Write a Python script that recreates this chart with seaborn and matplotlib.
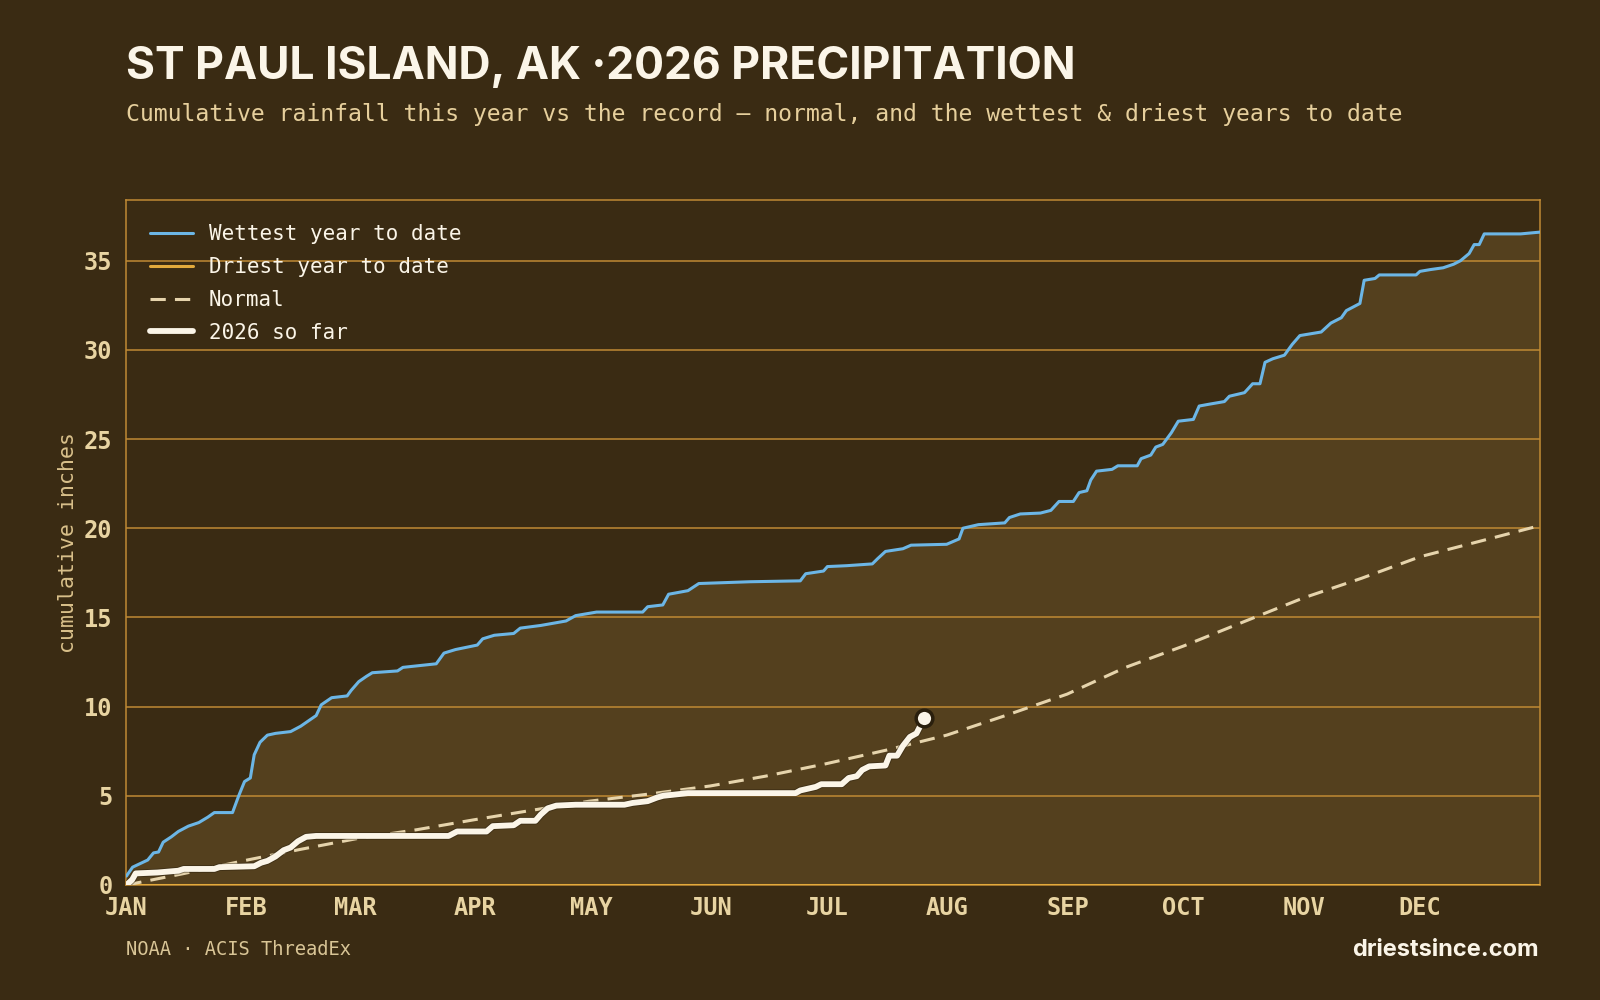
import matplotlib
matplotlib.use("Agg")
import matplotlib.pyplot as plt
import matplotlib.patheffects as pe
import numpy as np
import pandas as pd
import seaborn as sns

# day-of-year (0 = Jan 1) and cumulative inches
wet_days = [0, 1.6, 5.5, 7, 8.3, 9.5, 11.6, 13.4, 16, 18.7, 21, 22.7, 27.4, 29, 30.5, 32, 33, 34.5,
            36.4, 38.5, 42.4, 45, 47, 49, 50.3, 53, 57, 58, 60, 62, 63.5, 70, 71.4, 80, 82, 85,
            90.6, 92, 95, 100, 101.7, 107, 113.5, 116, 121.4, 133.3, 134.6, 138.5, 140, 145, 147.8,
            161, 174, 175.4, 180, 181, 186, 192.6, 194, 196, 200.5, 202.6, 211.8, 215, 216, 220,
            226.8, 228, 230.8, 236, 238.7, 240.8, 244.5, 246, 248, 249, 250.5, 254.5, 256, 261, 262,
            264.5, 265.8, 267.6, 269.8, 271.6, 275.5, 277, 279.5, 283.5, 284.8, 288.7, 290.8, 292.7,
            294, 296, 299, 301, 303, 308.5, 311, 313.7, 315, 318.5, 319.6, 322.4, 323.5, 333, 334,
            336.7, 340, 342.7, 344.5, 346.7, 348, 349.3, 350.6, 360, 365]
wet_vals = [0.5, 1.0, 1.4, 1.8, 1.85, 2.4, 2.7, 3.0, 3.3, 3.5, 3.8, 4.06, 4.06, 5.0, 5.8, 6.0, 7.3, 8.0,
            8.4, 8.5, 8.6, 8.9, 9.2, 9.5, 10.1, 10.5, 10.6, 10.9, 11.4, 11.7, 11.9, 12.0, 12.2, 12.4,
            13.0, 13.2, 13.45, 13.8, 14.0, 14.1, 14.4, 14.55, 14.8, 15.1, 15.3, 15.3, 15.6, 15.7,
            16.3, 16.5, 16.9, 17.0, 17.05, 17.45, 17.6, 17.85, 17.9, 18.0, 18.3, 18.7, 18.85, 19.05,
            19.1, 19.4, 20.0, 20.2, 20.3, 20.6, 20.8, 20.85, 21.0, 21.5, 21.5, 22.0, 22.1, 22.7,
            23.2, 23.3, 23.5, 23.5, 23.9, 24.1, 24.55, 24.7, 25.35, 26.0, 26.1, 26.85, 26.95, 27.1,
            27.4, 27.6, 28.1, 28.1, 29.3, 29.5, 29.7, 30.3, 30.8, 31.0, 31.5, 31.8, 32.2, 32.6,
            33.9, 34.0, 34.2, 34.2, 34.4, 34.5, 34.6, 34.8, 35.0, 35.4, 35.9, 35.9, 36.5, 36.5, 36.6]

dry_days = [0, 365]
dry_vals = [0.0, 0.0]

normal_days = [0, 15, 30.5, 45, 59.5, 75, 89.6, 105, 119.6, 135, 150.7, 165, 180.7, 196, 211.8,
               227, 242.9, 258, 273, 289, 304, 319, 334, 350, 365]
normal_vals = [0.0, 0.65, 1.37, 2.0, 2.6, 3.1, 3.65, 4.2, 4.7, 5.1, 5.55, 6.1, 6.8, 7.55, 8.4,
               9.5, 10.7, 12.2, 13.4, 14.8, 16.1, 17.2, 18.4, 19.3, 20.15]

cur_days = [0, 1.5, 2.4, 8, 13.4, 14.8, 22.7, 24, 33, 34.8, 36.4, 38.5, 40.6, 42.4, 44.3, 46.4, 49,
            83.2, 85.4, 93, 94.6, 100, 101.7, 105.6, 107, 108.8, 111, 116, 128.6, 130.7, 134.6,
            137, 138.6, 145, 172.8, 174, 178, 179.4, 184.7, 186.5, 188.6, 190, 191.8, 196, 197,
            199, 200.5, 202.3, 204, 206]
cur_vals = [0.0, 0.3, 0.65, 0.7, 0.8, 0.9, 0.9, 1.0, 1.05, 1.25, 1.35, 1.6, 1.95, 2.1, 2.45, 2.7,
            2.75, 2.75, 3.0, 3.0, 3.3, 3.35, 3.6, 3.6, 3.95, 4.3, 4.45, 4.5, 4.5, 4.6, 4.7, 4.9,
            5.0, 5.15, 5.15, 5.3, 5.5, 5.65, 5.65, 6.0, 6.1, 6.45, 6.65, 6.7, 7.25, 7.25, 7.8,
            8.3, 8.5, 9.35]

month_starts = [0, 31, 59, 90, 120, 151, 181, 212, 243, 273, 304, 334]
month_labels = ["JAN", "FEB", "MAR", "APR", "MAY", "JUN", "JUL", "AUG", "SEP", "OCT", "NOV", "DEC"]

BG = "#3a2b13"
FILL = "#54401e"
GRID = "#c08a34"
BLUE = "#6cb6e6"
GOLD = "#e3aa3c"
WHITE = "#fbf5e8"
NORMAL = "#e6d4ac"
TICK = "#e8d4a2"

sns.set_theme(style="white")
plt.rcParams["font.family"] = ["DejaVu Sans Mono"]

fig = plt.figure(figsize=(16, 10), dpi=100, facecolor=BG)
ax = fig.add_axes([0.079, 0.115, 0.8835, 0.685])
ax.set_facecolor(BG)

wet = pd.DataFrame({"day": wet_days, "inches": wet_vals})
dry = pd.DataFrame({"day": dry_days, "inches": dry_vals})
normal = pd.DataFrame({"day": normal_days, "inches": normal_vals})
cur = pd.DataFrame({"day": cur_days, "inches": cur_vals})

# band between driest and wettest
dry_on_wet = np.interp(wet["day"], dry["day"], dry["inches"])
ax.fill_between(wet["day"], dry_on_wet, wet["inches"], color=FILL, lw=0, zorder=1)

for yv in range(5, 40, 5):
    ax.axhline(yv, color=GRID, lw=1.1, zorder=2)

sns.lineplot(data=wet, x="day", y="inches", ax=ax, color=BLUE, lw=2.2,
             label="Wettest year to date", zorder=4, sort=False)
sns.lineplot(data=dry, x="day", y="inches", ax=ax, color=GOLD, lw=2.2,
             label="Driest year to date", zorder=4, sort=False)
sns.lineplot(data=normal, x="day", y="inches", ax=ax, color=NORMAL, lw=2.2,
             dashes=False, label="Normal", zorder=4, sort=False)
ax.lines[-1].set_linestyle((0, (5, 3)))
sns.lineplot(data=cur, x="day", y="inches", ax=ax, color=WHITE, lw=4.2,
             label="2026 so far", zorder=5, sort=False,
             path_effects=[pe.Stroke(linewidth=5.5, foreground="#2a1f0d", alpha=0.5), pe.Normal()])
ax.plot(cur["day"].iloc[-1], cur["inches"].iloc[-1], "o", ms=12, mfc=WHITE,
        mec="#2a1f0d", mew=2.5, zorder=6, clip_on=False)

ax.set_xlim(0, 365)
ax.set_ylim(0, 38.4)
ax.set_xticks(month_starts)
ax.set_xticklabels(month_labels)
ax.set_yticks(range(0, 40, 5))
ax.tick_params(axis="both", labelsize=17, length=6, width=1, direction="out", pad=2)
ax.tick_params(axis="x", colors="#b8a57a", labelcolor=TICK)
ax.tick_params(axis="y", colors="#b8a57a", labelcolor=TICK, pad=4)
for lab in ax.get_xticklabels() + ax.get_yticklabels():
    lab.set_fontweight("bold")
ax.set_xlabel("")
ax.set_ylabel("cumulative inches", color="#d9c08a", fontsize=15.5, labelpad=4)
for s in ax.spines.values():
    s.set_color(GRID)
    s.set_linewidth(1.1)

leg = ax.legend(loc="upper left", frameon=False, fontsize=15, handlelength=2.05,
                handletextpad=0.75, labelspacing=0.62, borderaxespad=0.75)
for t in leg.get_texts():
    t.set_color(WHITE)
for h in leg.get_lines():
    h.set_path_effects([])
leg.get_lines()[2].set_linestyle((0, (5, 3)))

fig.text(0.0785, 0.9215, "ST PAUL ISLAND, AK \u00b72026 PRECIPITATION", color=WHITE,
         fontsize=32, fontweight="bold", family=["Inter", "DejaVu Sans"], va="baseline")
fig.text(0.0785, 0.879, "Cumulative rainfall this year vs the record \u2014 normal, and the wettest & driest years to date",
         color="#e6cf9c", fontsize=16.7, va="baseline")
fig.text(0.0785, 0.045, "NOAA \u00b7 ACIS ThreadEx", color="#d9c596", fontsize=13.5, va="baseline")
fig.text(0.9615, 0.044, "driestsince.com", color=WHITE, fontsize=17, fontweight="bold",
         family=["Inter", "DejaVu Sans"], ha="right", va="baseline")

fig.savefig("out.png", dpi=100, facecolor=BG)
